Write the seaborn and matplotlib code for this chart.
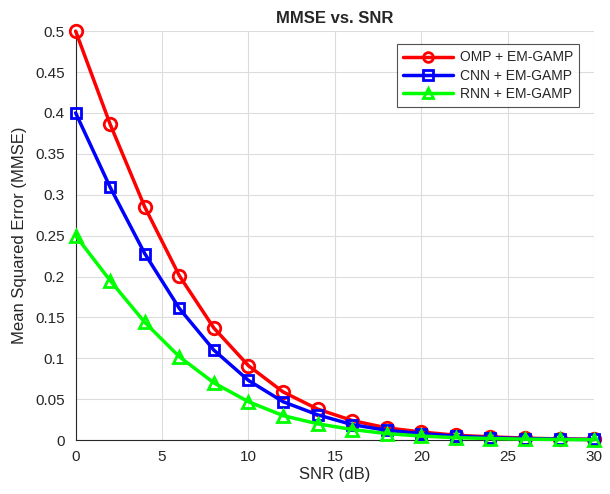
import numpy as np
import pandas as pd
import matplotlib
matplotlib.use("Agg")
import matplotlib.pyplot as plt
import seaborn as sns

# SNR points (dB)
snr = [0, 2, 4, 6, 8, 10, 12, 14, 16, 18, 20, 22, 24, 26, 28, 30]

# MMSE values
omp_mmse = [0.500, 0.386, 0.285, 0.201, 0.137, 0.091, 0.059, 0.038, 0.024,
            0.015, 0.010, 0.006, 0.004, 0.0025, 0.0015, 0.001]
cnn_mmse = [0.400, 0.309, 0.228, 0.161, 0.110, 0.073, 0.047, 0.031, 0.019,
            0.012, 0.008, 0.005, 0.003, 0.002, 0.0012, 0.0008]
rnn_mmse = [0.250, 0.195, 0.144, 0.102, 0.070, 0.047, 0.030, 0.020, 0.013,
            0.008, 0.005, 0.003, 0.002, 0.0012, 0.0008, 0.0005]

labels = ["OMP + EM-GAMP", "CNN + EM-GAMP", "RNN + EM-GAMP"]
colors = ["#ff0000", "#0000ff", "#00ff00"]
markers = ["o", "s", "^"]

df = pd.DataFrame({
    "SNR": snr * 3,
    "MMSE": omp_mmse + cnn_mmse + rnn_mmse,
    "Method": [labels[0]] * len(snr) + [labels[1]] * len(snr) + [labels[2]] * len(snr),
})

sns.set_style("white")
plt.rcParams["font.family"] = ["Liberation Sans", "DejaVu Sans"]

fig = plt.figure(figsize=(6.1, 4.94), dpi=100)
ax = fig.add_axes([0.124, 0.109, 0.850, 0.828])

for lab, col, mk in zip(labels, colors, markers):
    sub = df[df["Method"] == lab]
    sns.lineplot(data=sub, x="SNR", y="MMSE", ax=ax, color=col, marker=mk,
                 markersize=9 if mk != "s" else 7, markerfacecolor="none",
                 markeredgecolor=col, markeredgewidth=2, linewidth=2.5,
                 label=lab, clip_on=False, zorder=3)

ax.set_xlim(0, 30)
ax.set_ylim(0, 0.5)
ax.set_xticks(np.arange(0, 31, 5))
ax.set_yticks(np.arange(0, 0.501, 0.05))
ax.set_yticklabels([f"{v:g}" for v in np.round(np.arange(0, 0.501, 0.05), 2)])
ax.grid(True, color="#dcdcdc", linewidth=0.8)
ax.set_axisbelow(True)

for s in ["top", "right"]:
    ax.spines[s].set_visible(False)
for s in ["left", "bottom"]:
    ax.spines[s].set_color("#262626")
    ax.spines[s].set_linewidth(0.8)

ax.tick_params(direction="in", length=4, width=0.8, colors="#262626",
               labelsize=11, labelcolor="#262626")
ax.tick_params(axis="x", pad=7)
ax.tick_params(axis="y", pad=8)

ax.set_xlabel("SNR (dB)", fontsize=12, color="#262626", labelpad=2)
ax.set_ylabel("Mean Squared Error (MMSE)", fontsize=12, color="#262626", labelpad=6)
ax.set_title("MMSE vs. SNR", fontsize=12, fontweight="bold", pad=6)

leg = ax.legend(loc="upper right", fontsize=10, frameon=True, fancybox=False,
                edgecolor="#262626", borderpad=0.45, handlelength=3.6,
                handletextpad=0.5, labelspacing=0.3,
                bbox_to_anchor=(0.985, 0.985))
leg.get_frame().set_linewidth(0.8)
for h in leg.legend_handles:
    h.set_markersize(7)

fig.savefig("out.png", dpi=100)
